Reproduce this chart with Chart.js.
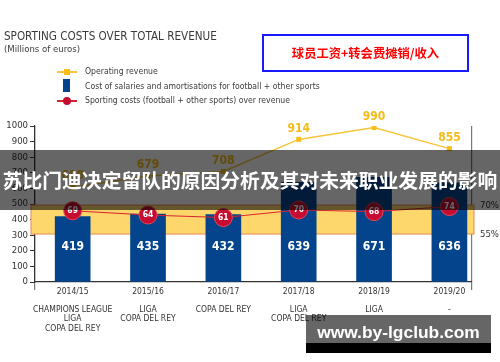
<!DOCTYPE html>
<html>
<head>
<meta charset="utf-8">
<script src="https://cdn.jsdelivr.net/npm/chart.js@4"></script>
<style>
  body { margin: 0; background: #fff; }
  #wrap { position: relative; width: 500px; height: 362px; overflow: hidden;
          font-family: 'Liberation Sans Narrow', 'DejaVu Sans Condensed', sans-serif; color: #3a3a3a; }
  #c { position: absolute; left: 0; top: 0; }
  .abs { position: absolute; white-space: nowrap; }
  .title { left: 4px; top: 29px; font-size: 11.6px; line-height: 14px; }
  .sub { left: 4px; top: 43px; font-size: 9.5px; line-height: 11px; }
  .leg { left: 85px; font-size: 8.6px; line-height: 11px; }
  .mk { position: absolute; }
  .redbox { left: 262px; top: 34px; width: 203px; height: 34px; border: 2px solid #1a1aff; background: #fff;
            color: #f00; font-family: 'Noto Sans CJK SC', sans-serif; font-weight: bold; font-size: 12.3px;
            line-height: 34px; text-align: center; }
  .banner { left: 0; top: 150px; width: 500px; height: 60px; background: rgba(0,0,0,0.6); color: #fff;
            font-family: 'Noto Sans CJK SC', sans-serif; font-weight: bold; font-size: 19.8px;
            line-height: 60px; text-align: center; overflow: hidden; }
  .wm { left: 306px; top: 315px; width: 185px; height: 28px; background: rgba(0,0,0,0.6); }
  .wmb { left: 306px; top: 343px; width: 185px; height: 10px; background: #000; }
  .wmt { left: 306px; top: 319px; width: 185px; text-align: center; color: #fff;
         font-family: 'Liberation Sans', sans-serif; font-weight: bold; font-size: 17.4px; line-height: 26px; }
</style>
</head>
<body>
<div id="wrap">
  <canvas id="c" width="500" height="362"></canvas>
  <div class="abs title">SPORTING COSTS OVER TOTAL REVENUE</div>
  <div class="abs sub">(Millions of euros)</div>

  <div class="mk" style="left:57px;top:71px;width:20px;height:1.5px;background:#f8c43a"></div>
  <div class="mk" style="left:64px;top:69px;width:6px;height:6px;background:#f7bd1a"></div>
  <div class="abs leg" style="top:66px">Operating revenue</div>

  <div class="mk" style="left:63px;top:79px;width:7px;height:13px;background:#03448c"></div>
  <div class="abs leg" style="top:81px">Cost of salaries and amortisations for football + other sports</div>

  <div class="mk" style="left:57px;top:100px;width:20px;height:1.5px;background:#d9232e"></div>
  <div class="mk" style="left:63px;top:97px;width:8px;height:8px;border-radius:50%;background:#c60c30"></div>
  <div class="abs leg" style="top:95px">Sporting costs (football + other sports) over revenue</div>

  <div class="abs redbox">球员工资+转会费摊销/收入</div>
  <div class="abs banner">苏比门迪决定留队的原因分析及其对未来职业发展的影响</div>
  <div class="abs wm"></div>
  <div class="abs wmb"></div>
  <div class="abs wmt">www.by-lgclub.com</div>
</div>
<script>
var seasons = ["2014/15", "2015/16", "2016/17", "2017/18", "2018/19", "2019/20"];
var trophies = [
  ["CHAMPIONS LEAGUE", "LIGA", "COPA DEL REY"],
  ["LIGA", "COPA DEL REY"],
  ["COPA DEL REY"],
  ["LIGA", "COPA DEL REY"],
  ["LIGA"],
  ["-"]
];
var revenue = [608, 679, 708, 914, 990, 855];
var salaries = [419, 435, 432, 639, 671, 636];
var ratio = [69, 64, 61, 70, 68, 74];
var bandTicks = [55, 70];

var narrow = "'Liberation Sans Narrow', 'DejaVu Sans Condensed', sans-serif";

function toPoints(arr) {
  return arr.map(function (v, i) { return { x: i, y: v }; });
}

var bandPlugin = {
  id: "band",
  beforeDatasetsDraw: function (chart) {
    var ctx = chart.ctx, a = chart.chartArea, s = chart.scales.yBand;
    var top = s.getPixelForValue(bandTicks[1]);
    var bot = s.getPixelForValue(bandTicks[0]);
    ctx.save();
    ctx.fillStyle = "#fdd66c";
    ctx.fillRect(a.left - 4, top, a.right - a.left + 6, bot - top);
    ctx.strokeStyle = "#e98a55";
    ctx.lineWidth = 1;
    ctx.strokeRect(a.left - 4, top, a.right - a.left + 6, bot - top);
    ctx.restore();
  }
};

var labelPlugin = {
  id: "labels",
  afterDatasetsDraw: function (chart) {
    var ctx = chart.ctx, y = chart.scales.y;
    ctx.save();
    ctx.textAlign = "center";
    ctx.textBaseline = "middle";

    ctx.fillStyle = "#fff";
    ctx.font = "bold 12px " + narrow;
    chart.getDatasetMeta(0).data.forEach(function (el, i) {
      ctx.fillText(salaries[i], el.x, y.getPixelForValue(225));
    });

    ctx.font = "bold 8.5px " + narrow;
    chart.getDatasetMeta(1).data.forEach(function (el, i) {
      ctx.fillText(ratio[i], el.x, el.y);
    });

    ctx.fillStyle = "#f6bb16";
    ctx.font = "bold 12px " + narrow;
    chart.getDatasetMeta(2).data.forEach(function (el, i) {
      ctx.fillText(revenue[i], el.x, el.y - 11);
    });
    ctx.restore();
  }
};

new Chart(document.getElementById("c"), {
  type: "bar",
  data: {
    datasets: [
      {
        type: "bar",
        label: "Cost of salaries and amortisations for football + other sports",
        data: toPoints(salaries),
        backgroundColor: "#03448c",
        barThickness: 35,
        yAxisID: "y",
        order: 3
      },
      {
        type: "line",
        label: "Sporting costs (football + other sports) over revenue",
        data: toPoints(ratio),
        borderColor: "#d9232e",
        borderWidth: 1,
        pointRadius: 9,
        pointBackgroundColor: "#c60c30",
        pointBorderColor: "#e4475a",
        pointBorderWidth: 1,
        yAxisID: "yPct",
        order: 2
      },
      {
        type: "line",
        label: "Operating revenue",
        data: toPoints(revenue),
        borderColor: "#f8c43a",
        borderWidth: 1.5,
        pointStyle: "rect",
        pointRadius: 3.5,
        pointBackgroundColor: "#f7bd1a",
        pointBorderWidth: 0,
        yAxisID: "y",
        order: 1
      }
    ]
  },
  options: {
    responsive: false,
    animation: false,
    devicePixelRatio: 1,
    layout: { padding: { top: 126, left: 0, right: 0, bottom: 0 } },
    plugins: { legend: { display: false }, tooltip: { enabled: false } },
    scales: {
      x: {
        type: "linear",
        min: -0.5,
        max: 5.3,
        offset: false,
        afterBuildTicks: function (s) {
          s.ticks = [-0.5, 0, 1, 2, 3, 4, 5, 5.3].map(function (v) { return { value: v }; });
        },
        afterFit: function (s) { s.height = 80; },
        grid: {
          offset: false,
          drawOnChartArea: true,
          tickLength: 8,
          lineWidth: 1.2,
          color: function (c) {
            return c.tick && Number.isInteger(c.tick.value) ? "rgba(0,0,0,0)" : "#7a7a7a";
          }
        },
        border: { color: "#333", width: 1.2 },
        ticks: {
          autoSkip: false,
          maxRotation: 0,
          padding: -3,
          color: "#333",
          font: { family: narrow, size: 8.5, lineHeight: 1.08 },
          callback: function (v) {
            return Number.isInteger(v) ? [seasons[v], ""].concat(trophies[v]) : "";
          }
        }
      },
      y: {
        position: "left",
        min: 0,
        max: 1000,
        afterFit: function (s) { s.width = 35; },
        grid: { drawOnChartArea: false, tickLength: 5, color: "#333" },
        border: { color: "#333", width: 1.2 },
        ticks: {
          stepSize: 100,
          padding: 2,
          color: "#333",
          font: { family: narrow, size: 9.5 },
          callback: function (v) { return String(v); }
        }
      },
      yBand: {
        position: "right",
        min: 30.2,
        max: 110.9,
        afterBuildTicks: function (s) {
          s.ticks = bandTicks.map(function (v) { return { value: v }; });
        },
        afterFit: function (s) { s.width = 28; },
        grid: { drawOnChartArea: false, drawTicks: false },
        border: { display: false },
        ticks: {
          padding: 8,
          color: "#333",
          font: { family: narrow, size: 9.5 },
          callback: function (v) { return v + "%"; }
        }
      },
      yPct: {
        display: false,
        min: -15,
        max: 169
      }
    }
  },
  plugins: [bandPlugin, labelPlugin]
});
</script>
</body>
</html>
